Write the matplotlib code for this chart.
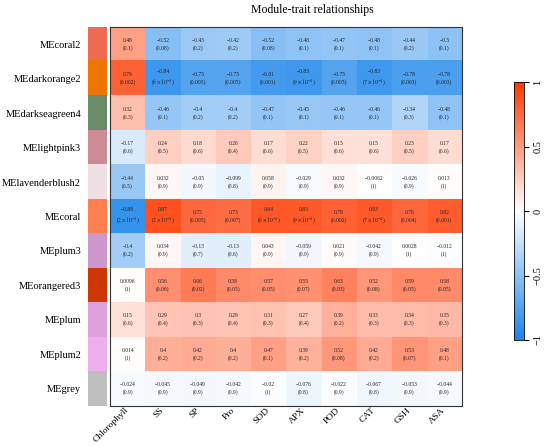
import numpy as np
import matplotlib
matplotlib.use("Agg")
import matplotlib.pyplot as plt
from matplotlib.colors import LinearSegmentedColormap

plt.rcParams['font.family'] = ['Liberation Serif', 'DejaVu Serif']
plt.rcParams['mathtext.fontset'] = 'stix'

modules = ["MEcoral2", "MEdarkorange2", "MEdarkseagreen4", "MElightpink3",
           "MElavenderblush2", "MEcoral", "MEplum3", "MEorangered3",
           "MEplum", "MEplum2", "MEgrey"]
module_colors = ["#EE6A50", "#EE7600", "#698B69", "#CD8C95", "#EEE0E5",
                 "#FF7F50", "#CD96CD", "#CD3700", "#DDA0DD", "#EEAEEE", "#BEBEBE"]
traits = ["Chlorophyll", "SS", "SP", "Pro", "SOD", "APX", "POD", "CAT", "GSH", "ASA"]

cor = np.array([
    [0.48, -0.52, -0.43, -0.42, -0.52, -0.48, -0.47, -0.48, -0.44, -0.5],
    [0.79, -0.84, -0.75, -0.75, -0.81, -0.83, -0.75, -0.83, -0.78, -0.78],
    [0.32, -0.46, -0.4, -0.4, -0.47, -0.45, -0.46, -0.46, -0.34, -0.48],
    [-0.17, 0.24, 0.18, 0.26, 0.17, 0.22, 0.15, 0.15, 0.23, 0.17],
    [-0.44, 0.032, -0.05, -0.099, 0.058, -0.029, 0.032, -0.0062, -0.026, 0.013],
    [-0.88, 0.87, 0.75, 0.73, 0.84, 0.83, 0.79, 0.83, 0.76, 0.82],
    [-0.4, 0.034, -0.13, -0.13, 0.043, -0.059, 0.021, -0.042, 0.0028, -0.012],
    [0.0096, 0.56, 0.66, 0.58, 0.57, 0.55, 0.63, 0.52, 0.59, 0.58],
    [0.15, 0.29, 0.3, 0.29, 0.31, 0.27, 0.39, 0.33, 0.34, 0.35],
    [0.014, 0.4, 0.42, 0.4, 0.47, 0.39, 0.52, 0.42, 0.53, 0.48],
    [-0.024, -0.045, -0.049, -0.042, -0.02, -0.076, -0.022, -0.067, -0.053, -0.044],
])

pval = [
    ["0.1", "0.08", "0.2", "0.2", "0.08", "0.1", "0.1", "0.1", "0.2", "0.1"],
    ["0.002", "6e-04", "0.005", "0.005", "0.001", "9e-04", "0.005", "7e-04", "0.003", "0.003"],
    ["0.3", "0.1", "0.2", "0.2", "0.1", "0.1", "0.1", "0.1", "0.3", "0.1"],
    ["0.6", "0.5", "0.6", "0.4", "0.6", "0.5", "0.6", "0.6", "0.5", "0.6"],
    ["0.5", "0.9", "0.9", "0.8", "0.9", "0.9", "0.9", "1", "0.9", "1"],
    ["2e-04", "2e-04", "0.005", "0.007", "6e-04", "9e-04", "0.002", "7e-04", "0.004", "0.001"],
    ["0.2", "0.9", "0.7", "0.6", "0.9", "0.9", "0.9", "0.9", "1", "1"],
    ["1", "0.06", "0.02", "0.05", "0.05", "0.07", "0.03", "0.08", "0.05", "0.05"],
    ["0.6", "0.4", "0.3", "0.4", "0.3", "0.4", "0.2", "0.3", "0.3", "0.3"],
    ["1", "0.2", "0.2", "0.2", "0.1", "0.2", "0.08", "0.2", "0.07", "0.1"],
    ["0.9", "0.9", "0.9", "0.9", "1", "0.8", "0.9", "0.8", "0.9", "0.9"],
]


def fmt_r(v):
    s = "%g" % v
    return s.replace("-", "\u2212")


def fmt_p(s):
    if "e" in s:
        m, e = s.split("e")
        return r"($%s\times10^{%d}$)" % (m, int(e))
    return "(" + s + ")"


cmap = LinearSegmentedColormap.from_list(
    "bwr_wgcna", [(0.10, 0.52, 0.92), (1.0, 1.0, 1.0), (1.0, 0.22, 0.0)])

fig = plt.figure(figsize=(5.5, 4.47), dpi=100)

ax = fig.add_axes([0.2, 0.0917, 0.64, 0.848])
nr, nc = cor.shape
im = ax.imshow(cor, cmap=cmap, vmin=-1, vmax=1, aspect="auto",
               extent=(-0.5, nc - 0.5, nr - 0.5, -0.5))
for i in range(nr):
    for j in range(nc):
        ax.text(j, i, fmt_r(cor[i, j]) + "\n" + fmt_p(pval[i][j]),
                ha="center", va="center", fontsize=4.0, color="#222222",
                linespacing=1.5)
ax.set_yticks([])
ax.set_xticks(range(nc))
ax.set_xticklabels(traits, rotation=45, ha="right", va="center", fontsize=6.8,
                   rotation_mode="anchor")
ax.tick_params(axis="x", length=0, pad=2)
for sp in ax.spines.values():
    sp.set_linewidth(0.8)
    sp.set_color("#333333")

# module colour strip
sax = fig.add_axes([0.16, 0.0917, 0.0345, 0.848])
sax.imshow(np.arange(nr).reshape(-1, 1),
           cmap=matplotlib.colors.ListedColormap(module_colors),
           aspect="auto", extent=(0, 1, nr - 0.5, -0.5))
sax.set_xticks([])
sax.set_yticks(range(nr))
sax.set_yticklabels(modules, fontsize=7.5)
sax.tick_params(axis="y", length=0, pad=5)
for sp in sax.spines.values():
    sp.set_visible(False)

# colourbar
cax = fig.add_axes([0.9345, 0.2394, 0.018, 0.577])
cb = fig.colorbar(im, cax=cax, ticks=[-1, -0.5, 0, 0.5, 1])
cb.ax.set_yticklabels(["\u22121", "\u22120.5", "0", "0.5", "1"],
                      rotation=90, va="center", fontsize=7.5)
cb.outline.set_linewidth(0.6)

fig.text(0.567, 0.978, "Module-trait relationships", ha="center", va="center",
         fontsize=8.5)

fig.savefig("out.png", dpi=100)
